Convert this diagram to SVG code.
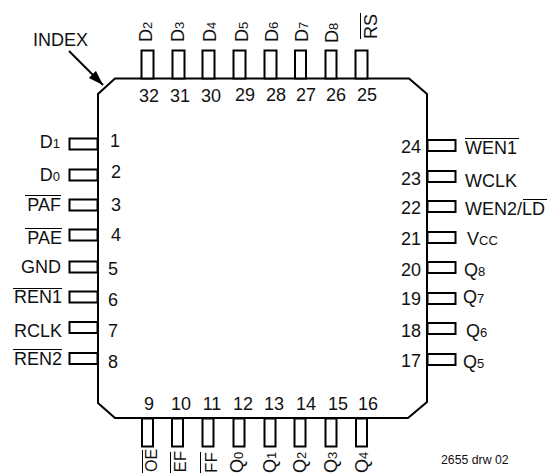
<svg xmlns="http://www.w3.org/2000/svg" width="548" height="473" viewBox="0 0 548 473">
<style>
text{font-family:"Liberation Sans",Arial,sans-serif;font-size:18px;fill:#111}
.s{font-size:13px}
.o{fill:none;stroke:#000;stroke-width:2}
.p{fill:#fff;stroke:#000;stroke-width:2}
.b{fill:none;stroke:#000;stroke-width:1}
.e{text-anchor:end}
.m{text-anchor:middle}
</style>
<defs><marker id="a" markerWidth="16" markerHeight="12" refX="15" refY="5" orient="auto" markerUnits="userSpaceOnUse"><path d="M0 0L15 5L0 10Z" fill="#000"/></marker></defs>
<rect width="548" height="473" fill="#fff"/>
<g id="connectors"><path d="M69 51L103 85" fill="none" stroke="#000" stroke-width="2" marker-end="url(#a)"/></g>
<g id="package"><path class="o" d="M115 78.500H409L427 94V402L408 418H115L98 403V94Z"/></g>
<text id="index" x="33" y="46">INDEX</text>
<g id="pins-top">
<rect class="p" x="141.500" y="50.500" width="12" height="28"/><rect class="p" x="172.500" y="50.500" width="12" height="28"/><rect class="p" x="202.500" y="50.500" width="12" height="28"/><rect class="p" x="233.500" y="50.500" width="12" height="28"/><rect class="p" x="264.500" y="50.500" width="12" height="28"/><rect class="p" x="295" y="50.500" width="11" height="28"/><rect class="p" x="325.500" y="50.500" width="11" height="28"/><rect class="p" x="355.500" y="50.500" width="12" height="28"/>
</g>
<g id="pins-left">
<rect class="p" x="69.500" y="138.500" width="28" height="11"/><rect class="p" x="69.500" y="169.500" width="28" height="11"/><rect class="p" x="69.500" y="199.500" width="28" height="11"/><rect class="p" x="69.500" y="229.500" width="28" height="11"/><rect class="p" x="69.500" y="261.500" width="28" height="11"/><rect class="p" x="69.500" y="291.500" width="28" height="11"/><rect class="p" x="69.500" y="322" width="28" height="11"/><rect class="p" x="69.500" y="353" width="28" height="11"/>
</g>
<g id="pins-right">
<rect class="p" x="427.500" y="140" width="28" height="11"/><rect class="p" x="427.500" y="171" width="28" height="11"/><rect class="p" x="427.500" y="201" width="28" height="11"/><rect class="p" x="427.500" y="232" width="28" height="11"/><rect class="p" x="427.500" y="262" width="28" height="11"/><rect class="p" x="427.500" y="293" width="28" height="11"/><rect class="p" x="427.500" y="323" width="28" height="11"/><rect class="p" x="427.500" y="354" width="28" height="11"/>
</g>
<g id="pins-bottom">
<rect class="p" x="142" y="418.500" width="11" height="28"/><rect class="p" x="172" y="418.500" width="11" height="28"/><rect class="p" x="202.500" y="418.500" width="11" height="28"/><rect class="p" x="233.500" y="418.500" width="11" height="28"/><rect class="p" x="264.500" y="418.500" width="11" height="28"/><rect class="p" x="294.500" y="418.500" width="11" height="28"/><rect class="p" x="325.500" y="418.500" width="11" height="28"/><rect class="p" x="356" y="418.500" width="11" height="28"/>
</g>
<g id="numbers">
<text class="m" x="149" y="102">32</text><text class="m" x="180" y="102">31</text><text class="m" x="211" y="102">30</text><text class="m" x="245" y="101">29</text><text class="m" x="276" y="101">28</text><text class="m" x="306" y="101">27</text><text class="m" x="336" y="101">26</text><text class="m" x="367" y="101">25</text>
<text x="110" y="147">1</text><text x="111" y="178">2</text><text x="111" y="211">3</text><text x="111" y="241">4</text><text x="108" y="275">5</text><text x="108" y="306">6</text><text x="108" y="337">7</text><text x="108" y="368">8</text>
<text class="e" x="421" y="153">24</text><text class="e" x="421" y="185">23</text><text class="e" x="421" y="214">22</text><text class="e" x="421" y="245">21</text><text class="e" x="421" y="276">20</text><text class="e" x="421" y="305">19</text><text class="e" x="421" y="337">18</text><text class="e" x="421" y="367">17</text>
<text class="m" x="149" y="410">9</text><text class="m" x="181" y="410">10</text><text class="m" x="212" y="410">11</text><text class="m" x="243" y="410">12</text><text class="m" x="274" y="410">13</text><text class="m" x="306" y="410">14</text><text class="m" x="338" y="410">15</text><text class="m" x="368" y="410">16</text>
</g>
<g id="labels-left">
<text class="e" x="60" y="148">D<tspan class="s">1</tspan></text>
<text class="e" x="60" y="181">D<tspan class="s">0</tspan></text>
<text class="e" x="61" y="211">PAF</text><path class="b" d="M25 195.500H61"/>
<text class="e" x="62" y="244">PAE</text><path class="b" d="M25 228.500H62"/>
<text class="e" x="61" y="273">GND</text>
<text class="e" x="62" y="303">REN1</text><path class="b" d="M13 288.500H62"/>
<text class="e" x="62" y="337">RCLK</text>
<text class="e" x="62" y="365">REN2</text><path class="b" d="M13 349.500H62"/>
</g>
<g id="labels-right">
<text x="465" y="154">WEN1</text><path class="b" d="M465 138.500H519"/>
<text x="465" y="187">WCLK</text>
<text x="465" y="215">WEN2/LD</text><path class="b" d="M523 199.500H547"/>
<text x="467" y="245">V<tspan class="s">CC</tspan></text>
<text x="464" y="276">Q<tspan class="s">8</tspan></text>
<text x="463" y="303">Q<tspan class="s">7</tspan></text>
<text x="466" y="337">Q<tspan class="s">6</tspan></text>
<text x="463" y="368">Q<tspan class="s">5</tspan></text>
</g>
<g id="labels-top">
<text transform="translate(152,42) rotate(-90)">D<tspan class="s">2</tspan></text>
<text transform="translate(184,42) rotate(-90)">D<tspan class="s">3</tspan></text>
<text transform="translate(216,42) rotate(-90)">D<tspan class="s">4</tspan></text>
<text transform="translate(248,42) rotate(-90)">D<tspan class="s">5</tspan></text>
<text transform="translate(278,42) rotate(-90)">D<tspan class="s">6</tspan></text>
<text transform="translate(308,42) rotate(-90)">D<tspan class="s">7</tspan></text>
<text transform="translate(338,43) rotate(-90)">D<tspan class="s">8</tspan></text>
<text transform="translate(377,39) rotate(-90)">RS</text><path class="b" d="M360.500 39V13"/>
</g>
<g id="labels-bottom">
<text transform="translate(157,472) rotate(-90)" style="font-size:16px">OE</text><path class="b" d="M142.500 473V450"/>
<text transform="translate(186,472.500) rotate(-90)" style="font-size:17px">EF</text><path class="b" d="M170.500 473V452"/>
<text transform="translate(217,473) rotate(-90)" style="font-size:17px">FF</text><path class="b" d="M200.500 473V452"/>
<text transform="translate(243,473) rotate(-90)">Q<tspan class="s">0</tspan></text>
<text transform="translate(276,473) rotate(-90)">Q<tspan class="s">1</tspan></text>
<text transform="translate(306,473) rotate(-90)">Q<tspan class="s">2</tspan></text>
<text transform="translate(337,473) rotate(-90)">Q<tspan class="s">3</tspan></text>
<text transform="translate(368,473) rotate(-90)">Q<tspan class="s">4</tspan></text>
</g>
<text id="note" x="441" y="464" style="font-size:12.300px">2655 drw 02</text>
</svg>
